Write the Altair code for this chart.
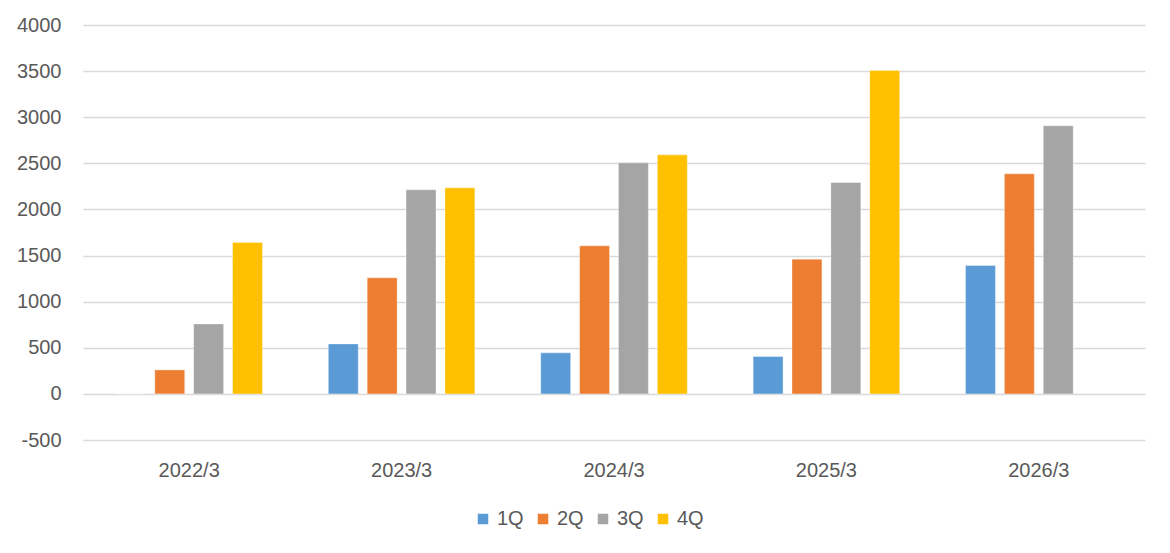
import altair as alt
import pandas as pd

years = ["2022/3", "2023/3", "2024/3", "2025/3", "2026/3"]
quarters = ["1Q", "2Q", "3Q", "4Q"]
q1 = [0, 542, 445, 405, 1392]
q2 = [260, 1258, 1605, 1461, 2386]
q3 = [759, 2213, 2505, 2292, 2907]
q4 = [1641, 2234, 2592, 3507, None]
colors = ["#5B9BD5", "#ED7D31", "#A5A5A5", "#FFC000"]

rows = []
for qi, (q, vals) in enumerate(zip(quarters, [q1, q2, q3, q4])):
    for y, v in zip(years, vals):
        if v is not None:
            rows.append({"year": y, "quarter": q, "value": v})
df = pd.DataFrame(rows)

FONT = "Liberation Sans"
FS = 20

chart = alt.Chart(df).mark_bar(stroke="white", strokeWidth=0.6, strokeOpacity=0.6).encode(
    x=alt.X("year:N", sort=years, title=None,
            scale=alt.Scale(paddingInner=0.31, paddingOuter=0.155),
            axis=alt.Axis(labelAngle=0, domain=False, ticks=False, labelPadding=20,
                          labelFontSize=FS, labelColor="#595959", labelFont=FONT, grid=False)),
    xOffset=alt.XOffset("quarter:N", sort=quarters,
                        scale=alt.Scale(paddingInner=0.23, paddingOuter=0)),
    y=alt.Y("value:Q", title=None,
            scale=alt.Scale(domain=[-500, 4000], nice=False, zero=False),
            axis=alt.Axis(values=list(range(-500, 4001, 500)), domain=False, ticks=False,
                          labelExpr="'' + datum.value",
                          labelPadding=22, labelFontSize=FS, labelColor="#595959",
                          labelFont=FONT, gridColor="#D9D9D9", gridWidth=1.3)),
    color=alt.Color("quarter:N", sort=quarters, title=None,
                    scale=alt.Scale(domain=quarters, range=colors),
                    legend=alt.Legend(orient="none", direction="horizontal",
                                      legendX=390, legendY=484,
                                      symbolType="square", symbolSize=110,
                                      symbolStrokeWidth=0, labelFontSize=FS,
                                      labelFont=FONT, labelColor="#595959",
                                      labelOffset=4, columnPadding=9)),
).properties(
    width=1062, height=415,
    autosize=alt.AutoSizeParams(type="none"),
    padding={"left": 75, "top": 17, "right": 17, "bottom": 100},
).configure_view(stroke=None)

chart.save("out.html", embed_options={"renderer": "svg", "actions": False})
